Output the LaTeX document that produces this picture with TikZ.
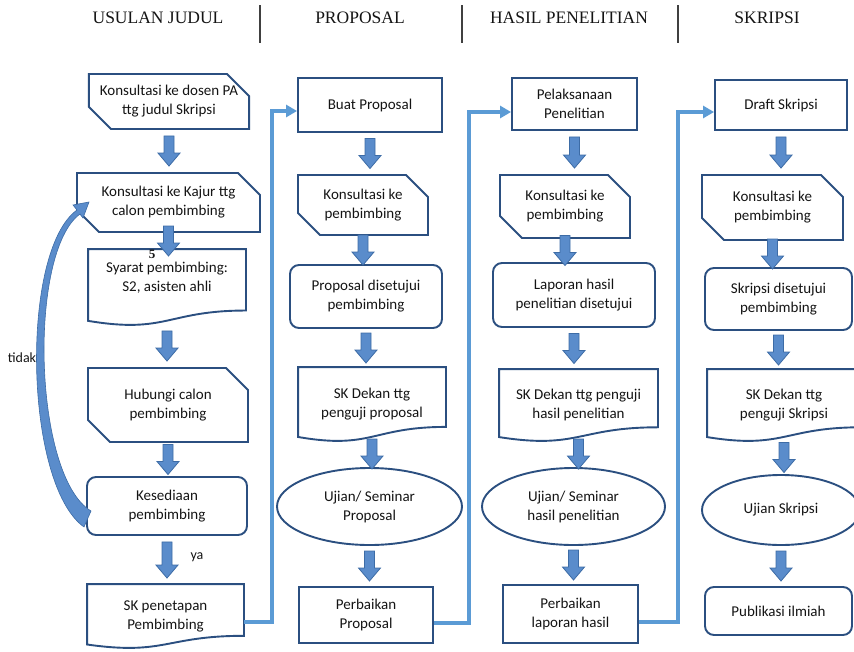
\documentclass[tikz,border=0pt]{standalone}
\usepackage{fontspec}
\setmainfont{Carlito}
\newfontfamily\headfont{Liberation Serif}
\usetikzlibrary{shapes.geometric,shapes.misc,calc,arrows.meta}

\definecolor{boxblue}{HTML}{2B4F80}
\definecolor{arrowfill}{HTML}{5A8CCB}
\definecolor{arrowline}{HTML}{3D6CA6}
\definecolor{linkblue}{HTML}{5B9BD5}
\definecolor{txt}{HTML}{141414}

\tikzset{
	box/.style={draw=boxblue, line width=1.9pt, align=center, inner sep=0pt, text=txt, font=\fontsize{15}{19}\selectfont},
	plainbox/.style={box, rectangle},
	snipbox/.style={box, chamfered rectangle, chamfered rectangle corners={north east,south west}, chamfered rectangle sep=11pt},
	roundbox/.style={box, rounded corners=9pt},
	docbox/.style={box, draw=none},
	ovalbox/.style={box, ellipse},
	blockarr/.style={fill=arrowfill, draw=arrowline, line width=0.8pt, line join=miter},
	link/.style={draw=linkblue, line width=3.5pt, -{Triangle[length=11pt,width=12pt]}},
	head/.style={font=\headfont\fontsize{17.5}{20}\selectfont, text=txt},
	note/.style={text=txt, font=\fontsize{14}{16}\selectfont}
}

\newcommand{\docframe}[1]{%
	\draw[draw=boxblue, line width=1.9pt] (#1.north west) -- (#1.north east)
		-- ($(#1.north east)!0.81!(#1.south east)$)
		.. controls ($(#1.north)!0.81!(#1.south)$) and ($(#1.north)!1.12!(#1.south)$)
		.. ($(#1.north west)!0.946!(#1.south west)$) -- cycle;}

\newcommand{\flowarrow}[2]{%
	\path let \p1=(#1.south), \p2=(#2.north), \n1={(\y1+\y2)/2}, \n2={max(15pt,(\y1-\y2)/2-6pt)} in
		[blockarr] (\x1-5pt,\n1+\n2) -- (\x1+5pt,\n1+\n2) -- (\x1+5pt,\n1-\n2+13pt)
		-- (\x1+11pt,\n1-\n2+13pt) -- (\x1,\n1-\n2) -- (\x1-11pt,\n1-\n2+13pt)
		-- (\x1-5pt,\n1-\n2+13pt) -- cycle;}

\begin{document}
\begin{tikzpicture}[x=1pt,y=-1pt]
	\useasboundingbox (0,0) rectangle (854,651);

	\node[head] (t1) at (158,18) {USULAN JUDUL};
	\node[head] (t2) at (360,18) {PROPOSAL};
	\node[head] (t3) at (569,18) {HASIL PENELITIAN};
	\node[head] (t4) at (767,18) {SKRIPSI};
	\draw[line width=1.2pt, color=black!75] (260,5) -- (260,43);
	\draw[line width=1.2pt, color=black!75] (462,5) -- (462,43);
	\draw[line width=1.2pt, color=black!75] (678,5) -- (678,43);

	\node[snipbox, minimum width=158pt, minimum height=55pt] (k1) at (169,101.5) {Konsultasi ke dosen PA\\ttg judul Skripsi};
	\node[snipbox, minimum width=183pt, minimum height=59pt] (k2) at (168.5,202.5) {Konsultasi ke Kajur ttg\\calon pembimbing};
	\node[docbox, minimum width=156pt, minimum height=74pt] (k3) at (167,287) {Syarat pembimbing:\\S2, asisten ahli\\[1pt]};
	\node[snipbox, minimum width=160pt, minimum height=74pt] (k4) at (168,405) {Hubungi calon\\pembimbing};
	\node[roundbox, minimum width=160pt, minimum height=58pt] (k5) at (167,506) {Kesediaan\\pembimbing};
	\node[docbox, minimum width=155pt, minimum height=62pt] (k6) at (165.5,616) {SK penetapan\\Pembimbing};

	\node[plainbox, minimum width=144pt, minimum height=54pt] (p1) at (370,105) {Buat Proposal};
	\node[snipbox, minimum width=130pt, minimum height=60pt] (p2) at (363,205) {Konsultasi ke\\pembimbing};
	\node[roundbox, minimum width=152pt, minimum height=63pt] (p3) at (366,296.5) {Proposal disetujui\\pembimbing};
	\node[docbox, minimum width=146pt, minimum height=72pt] (p4) at (372,404) {SK Dekan ttg\\penguji proposal};
	\node[ovalbox, minimum width=185pt, minimum height=77pt] (p5) at (369.5,506.5) {Ujian/ Seminar\\Proposal};
	\node[plainbox, minimum width=134pt, minimum height=56pt] (p6) at (366,615) {Perbaikan\\Proposal};

	\node[plainbox, minimum width=125pt, minimum height=52pt] (h1) at (574.5,104) {Pelaksanaan\\Penelitian};
	\node[snipbox, minimum width=130pt, minimum height=63pt] (h2) at (565,206.5) {Konsultasi ke\\pembimbing};
	\node[roundbox, minimum width=162pt, minimum height=64pt] (h3) at (574,295) {Laporan hasil\\penelitian disetujui};
	\node[docbox, minimum width=157pt, minimum height=70pt] (h4) at (578.5,405) {SK Dekan ttg penguji\\hasil penelitian};
	\node[ovalbox, minimum width=183pt, minimum height=77pt] (h5) at (573.5,506.5) {Ujian/ Seminar\\hasil penelitian};
	\node[plainbox, minimum width=135pt, minimum height=58pt] (h6) at (570.5,614) {Perbaikan\\laporan hasil};

	\node[plainbox, minimum width=132pt, minimum height=50pt] (s1) at (781,105) {Draft Skripsi};
	\node[snipbox, minimum width=141pt, minimum height=65pt] (s2) at (772.5,207.5) {Konsultasi ke\\pembimbing};
	\node[roundbox, minimum width=147pt, minimum height=62pt] (s3) at (778.5,299) {Skripsi disetujui\\pembimbing};
	\node[docbox, minimum width=152pt, minimum height=70pt] (s4) at (784,405) {SK Dekan ttg\\penguji Skripsi};
	\node[ovalbox, minimum width=158pt, minimum height=70pt] (s5) at (781,510) {Ujian Skripsi};
	\node[roundbox, minimum width=147pt, minimum height=48pt] (s6) at (778.5,611) {Publikasi ilmiah};

	\docframe{k3}
	\docframe{k6}
	\docframe{p4}
	\docframe{h4}
	\docframe{s4}

	\foreach \a/\b in {k1/k2,k2/k3,k3/k4,k4/k5,k5/k6,p1/p2,p2/p3,p3/p4,p4/p5,p5/p6,h1/h2,h2/h3,h3/h4,h4/h5,h5/h6,s1/s2,s2/s3,s3/s4,s4/s5,s5/s6}
		\flowarrow{\a}{\b};

	\draw[link] ([yshift=-6pt]k6.east) -- ++(28,0) |- ([yshift=-6pt]p1.west);
	\draw[link] ([yshift=-8pt]p6.east) -- ++(35,0) |- ([yshift=-8pt]h1.west);
	\draw[link] ([yshift=-8pt]h6.east) -- ++(39,0) |- ([yshift=-7pt]s1.west);

	\fill[arrowfill, draw=arrowline, line width=0.6pt] (84,527) .. controls (24,484) and (20,251) .. (77,210)
		-- (73,205) -- (89,202) -- (83,218) -- (80,214) .. controls (28,252) and (33,476) .. (91,511) -- cycle;
	\node[note] (no) at (22,358) {tidak};
	\node[note] (yes) at (197,557) {ya};
	\node[font=\headfont\bfseries\fontsize{13}{13}\selectfont, text=txt, inner sep=0pt] (five) at (152,254) {5};
\end{tikzpicture}
\end{document}
